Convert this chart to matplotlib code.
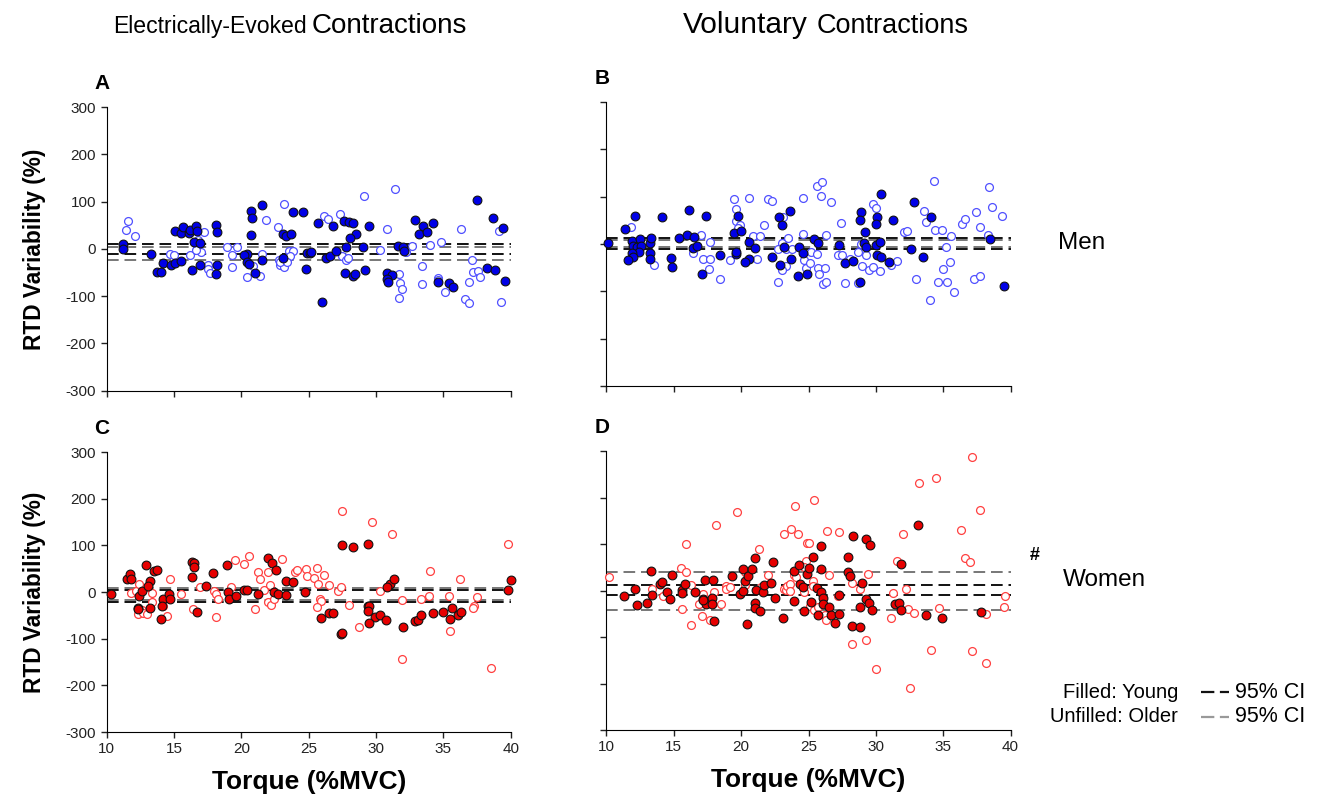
import numpy as np
import matplotlib
matplotlib.use("Agg")
import matplotlib.pyplot as plt

plt.rcParams['font.family'] = ['Liberation Sans', 'DejaVu Sans']
plt.rcParams['axes.unicode_minus'] = False

# ---- datos (torque %MVC, variabilidad %) ----
a_young = [(11.2,11),(11.2,0),(13.3,-10),(13.7,-49),(14.0,-49),(14.2,-30),(14.8,-35),(15.1,-30),(15.5,-26),(15.1,37),
           (15.5,33),(15.7,46),(16.1,33),(16.2,40),(16.6,49),(16.7,38),(16.5,14),(16.9,12),(16.3,-45),(16.9,-35),
           (18.1,51),(18.2,36),(18.2,-35),(18.1,-54),(20.7,81),(20.8,66),(20.7,30),(21.5,93),(20.4,-10),(20.2,-14),
           (20.4,-28),(20.6,-31),(21.5,-24),(21.0,-52),(23.1,32),(23.3,27),(23.7,32),(23.8,77),(24.6,78),(23.1,-19),
           (24.9,-9),(24.8,-43),(25.7,54),(26.8,48),(27.6,59),(28.0,56),(28.3,54),(28.5,31),(28.1,22),(29.5,49),
           (32.9,62),(33.5,48),(33.2,32),(33.8,35),(34.2,54),(37.5,103),(38.7,66),(39.4,44),(25.1,-9),(25.2,-6),
           (26.3,-19),(26.6,-16),(27.0,-5),(27.8,5),(29.0,4),(31.6,6),(32.0,5),(32.1,-5),(26.0,-113),(27.7,-52),
           (28.3,-57),(28.4,-54),(29.2,-45),(30.8,-52),(31.2,-56),(30.8,-63),(30.9,-71),(34.6,-71),(35.4,-72),(35.7,-81),
           (38.2,-40),(38.8,-44),(39.6,-68)]
a_old = [(11.6,58),(11.4,40),(12.1,28),(14.7,-10),(15.0,-12),(16.2,-14),(16.7,2),(16.8,19),(17.2,35),(17.0,-7),
         (16.6,-3),(17.5,-35),(17.5,-43),(17.7,-50),(18.9,5),(19.3,-12),(19.3,-39),(19.7,5),(20.4,-59),(20.9,-36),
         (21.4,-57),(21.5,-10),(21.8,62),(22.7,46),(23.2,94),(23.5,-4),(23.8,-5),(23.6,-15),(22.8,-24),(22.9,-35),
         (23.2,-38),(22.9,-28),(23.4,-28),(26.1,70),(26.4,63),(27.3,73),(29.1,112),(31.4,127),(30.8,42),(36.3,42),
         (39.1,38),(30.3,-3),(32.7,7),(34.0,9),(34.8,14),(32.2,-7),(27.5,-16),(27.8,-23),(27.9,-19),(33.4,-36),
         (37.1,-24),(37.2,-49),(37.6,-47),(37.7,-59),(36.9,-71),(31.7,-53),(31.8,-73),(31.9,-85),(31.7,-104),(33.4,-74),
         (34.6,-61),(34.6,-65),(35.1,-92),(36.6,-107),(36.9,-115),(39.3,-113)]

b_young = [(10.1,3),(11.4,31),(12.1,59),(14.1,57),(16.1,72),(17.4,60),(19.8,60),(19.5,24),(20.0,27),(23.6,70),
           (22.8,57),(23.0,40),(11.9,6),(12.0,-4),(12.3,-6),(12.5,10),(12.6,-4),(12.4,-17),(11.9,-18),(12.0,-27),
           (11.6,-34),(13.2,3),(13.3,12),(13.2,-18),(13.2,-31),(14.8,-29),(14.9,-48),(15.4,12),(16.0,20),(16.5,15),
           (16.4,-9),(16.7,-4),(17.1,-63),(18.4,-23),(19.6,-22),(19.6,-16),(20.6,4),(21.0,-8),(20.6,-31),(20.3,-38),
           (22.3,-27),(23.2,-6),(22.9,-45),(23.7,-31),(24.2,-67),(24.3,-6),(24.6,-18),(24.9,-63),(25.4,11),(25.7,3),
           (27.3,-2),(27.7,-40),(28.3,-36),(28.8,-80),(28.9,67),(28.8,50),(29.2,26),(30.1,57),(30.0,43),(30.4,105),
           (31.3,51),(29.1,3),(29.3,-6),(30.0,-2),(30.3,4),(30.1,-24),(30.4,-27),(31.0,-38),(32.8,89),(34.1,57),
           (32.6,-11),(33.5,-27),(38.5,10),(39.5,-89)]
b_old = [(11.8,35),(13.5,-45),(17.0,20),(17.7,4),(16.4,-20),(17.2,-31),(17.7,-31),(17.6,-52),(18.4,-75),(19.2,-34),
         (19.5,96),(19.6,74),(19.6,48),(19.9,41),(19.8,33),(20.6,98),(20.9,17),(21.4,17),(21.7,40),(21.2,-31),
         (22.0,96),(22.3,91),(23.1,56),(23.0,3),(22.7,-11),(23.3,-11),(23.3,-47),(23.0,-54),(22.7,-80),(23.5,12),
         (23.8,-11),(24.6,98),(24.6,22),(24.7,-33),(24.8,-50),(25.6,122),(26.0,130),(25.9,101),(26.7,88),(26.3,20),
         (25.2,-16),(25.6,-21),(25.1,-40),(25.7,-51),(26.2,-51),(25.8,-64),(26.1,-84),(26.3,-81),(27.2,-24),(27.5,-24),
         (28.1,-31),(27.4,45),(27.7,-82),(28.7,-82),(28.9,1),(28.7,-17),(29.3,-24),(29.0,-47),(29.5,-54),(29.8,-48),
         (30.3,-58),(29.8,84),(30.0,75),(31.1,-45),(31.6,-35),(32.1,26),(32.3,27),(33.0,-73),(33.6,69),(33.7,47),
         (34.3,132),(34.4,29),(34.9,30),(35.6,17),(35.2,-6),(35.0,-52),(35.5,-38),(34.6,-81),(35.3,-80),(35.8,-101),
         (34.0,-118),(36.4,42),(36.6,52),(37.4,67),(37.7,36),(38.4,120),(38.6,79),(39.4,60),(38.3,18),(37.3,-75),
         (37.7,-67)]

c_young = [(10.3,-5),(11.5,27),(11.7,39),(11.8,28),(12.9,57),(12.3,-35),(12.3,-37),(12.4,-9),(12.6,3),(13.2,24),
           (13.1,12),(13.2,-34),(13.5,44),(13.7,47),(14.0,-58),(14.2,-14),(14.1,-31),(14.6,-4),(14.7,-14),(16.3,65),
           (16.5,62),(16.5,53),(16.3,33),(16.7,-42),(17.4,12),(17.9,40),(18.9,57),(19.0,-1),(19.1,-15),(19.6,-8),
           (20.2,5),(20.4,4),(21.2,-4),(22.0,73),(22.3,62),(22.6,48),(22.4,-1),(22.7,-4),(23.3,-6),(23.3,24),
           (23.8,21),(24.7,0),(27.5,101),(28.3,96),(29.4,103),(31.0,17),(31.3,28),(30.8,10),(25.9,-56),(26.5,-45),
           (26.8,-44),(27.4,-89),(27.5,-87),(29.4,-29),(29.5,-31),(29.4,-40),(29.9,-54),(30.3,-49),(30.7,-59),(29.5,-67),
           (32.0,-75),(32.9,-62),(33.1,-61),(33.3,-50),(34.2,-44),(35.0,-43),(35.6,-35),(35.5,-57),(36.1,-50),(36.3,-42),
           (39.8,5),(40.0,25)]
c_old = [(11.8,-3),(12.2,3),(12.4,17),(12.3,-47),(12.6,-38),(12.7,-44),(13.0,-48),(13.4,-21),(13.1,10),(13.4,-3),
         (14.2,-31),(14.5,-51),(14.7,27),(15.5,-5),(16.4,-36),(16.9,11),(18.0,3),(18.1,-4),(18.3,-15),(18.1,-54),
         (19.2,11),(19.5,68),(20.2,59),(20.6,77),(21.2,42),(21.4,28),(21.0,-37),(21.7,5),(22.0,42),(22.1,16),
         (22.0,-22),(22.2,-27),(22.4,-16),(23.0,70),(24.0,42),(24.1,47),(24.8,49),(24.9,35),(27.5,173),(29.7,149),
         (31.2,125),(25.6,52),(26.1,37),(25.4,29),(25.7,17),(26.5,16),(27.2,3),(27.4,10),(25.8,-14),(25.9,-19),
         (25.6,-33),(28.0,-28),(28.7,-75),(30.3,2),(31.9,-17),(31.9,-144),(33.3,-14),(33.9,-9),(34.0,44),(35.4,-9),
         (36.2,27),(35.5,-84),(37.3,-31),(37.2,-34),(37.5,-11),(38.5,-163),(39.8,103)]

d_young = [(11.3,-12),(12.1,4),(12.3,-32),(13.0,-26),(13.3,41),(13.4,-9),(14.0,15),(14.1,19),(14.5,-3),(14.7,-19),
           (14.9,34),(15.6,2),(15.6,-5),(15.8,15),(16.6,-3),(17.2,-19),(17.4,-28),(17.2,-21),(17.3,22),(17.9,22),
           (17.8,-16),(17.8,-28),(18.0,-66),(19.3,31),(19.9,-8),(20.1,-1),(20.1,47),(20.3,21),(20.5,31),(20.8,47),
           (21.0,69),(21.0,-27),(21.0,-37),(21.4,-45),(21.1,2),(20.4,-72),(21.6,-4),(21.7,11),(22.2,16),(22.4,62),
           (22.5,-16),(23.1,-60),(23.9,42),(23.9,-22),(24.3,54),(24.4,13),(24.6,8),(24.7,-44),(24.9,36),(25.0,49),
           (25.3,72),(25.9,95),(25.9,46),(25.6,6),(25.9,-3),(26.1,-17),(26.1,-28),(25.2,-25),(25.7,-52),(26.5,-35),
           (26.7,-52),(27.0,-70),(27.3,-50),(27.3,-9),(27.9,72),(27.9,40),(28.1,31),(28.3,118),(29.0,16),(29.3,110),
           (29.6,97),(29.3,-18),(29.5,-26),(28.8,-35),(29.7,-42),(28.2,-77),(28.8,-78),(31.9,58),(31.4,-29),(31.7,-26),
           (31.9,-41),(33.1,140),(33.7,-53),(34.9,-59),(37.8,-46)]
d_old = [(10.2,29),(13.4,4),(14.2,-11),(15.5,49),(15.9,39),(15.9,101),(16.3,11),(15.6,-39),(16.3,-75),(16.9,-28),
         (17.2,-8),(17.1,-54),(17.7,-64),(18.0,-4),(18.5,-28),(18.1,142),(18.9,9),(18.9,4),(19.2,8),(19.7,168),
         (20.3,11),(20.3,40),(21.3,89),(21.5,8),(22.0,33),(23.2,122),(23.7,132),(24.0,181),(24.2,122),(23.2,3),
         (23.3,1),(23.4,9),(23.6,15),(23.6,-1),(23.9,33),(24.1,29),(24.8,63),(24.7,51),(24.9,102),(25.4,194),
         (25.0,102),(25.3,20),(25.3,9),(24.7,-3),(25.1,-33),(25.4,-42),(25.7,-35),(26.2,-53),(26.3,-64),(26.4,128),
         (27.3,126),(26.5,33),(27.2,-12),(28.2,17),(28.8,3),(29.4,36),(28.2,-115),(29.3,-107),(30.0,-169),(32.0,121),
         (31.6,64),(32.2,4),(31.3,-5),(31.1,-59),(32.4,-39),(32.8,-49),(32.5,-209),(33.2,232),(34.5,242),(34.1,-127),
         (34.7,-37),(36.3,131),(36.6,69),(37.0,61),(37.1,287),(37.7,173),(37.1,-130),(38.2,-156),(38.2,-50),(39.5,-35),
         (39.6,-11)]

# intervalos de confianza 95% (inferior, superior)
a_ci_young = (-10, 10)
a_ci_old = (-24, 5)
b_ci_young = (-11, 12)
b_ci_old = (-7, 8)
c_ci_young = (-21, 5)
c_ci_old = (-17, 9)
d_ci_young = (-9, 11)
d_ci_old = (-42, 40)

xticks = [10, 15, 20, 25, 30, 35, 40]
yticks = [-300, -200, -100, 0, 100, 200, 300]


def panel(ax, young, old, ci_young, ci_old, color, edge_open, letra, xlab, ylab):
    yx = np.array(young)
    ox = np.array(old)
    ax.scatter(ox[:, 0], ox[:, 1], s=32, facecolors='white', edgecolors=edge_open, linewidths=0.9, zorder=3, clip_on=False)
    ax.scatter(yx[:, 0], yx[:, 1], s=40, facecolors=color, edgecolors='#111111', linewidths=0.8, zorder=4, clip_on=False)
    for v in ci_old:
        ax.axhline(v, color='#777777', lw=1.4, dashes=(6, 3), zorder=2)
    for v in ci_young:
        ax.axhline(v, color='#111111', lw=1.4, dashes=(6, 3), zorder=2)
    ax.set_xlim(10, 40)
    ax.set_ylim(-300, 300)
    ax.set_xticks(xticks)
    ax.set_yticks(yticks)
    ax.spines['top'].set_visible(False)
    ax.spines['right'].set_visible(False)
    ax.tick_params(direction='out', length=4, width=1, labelsize=11, colors='#222222')
    if not xlab:
        ax.set_xticklabels([])
    if not ylab:
        ax.set_yticklabels([])
    ax.text(-0.03, 1.05, letra, transform=ax.transAxes, fontsize=15, fontweight='bold', va='bottom', ha='left')


fig = plt.figure(figsize=(13.25, 8.01), dpi=100)
axA = fig.add_axes([0.0805, 0.5122, 0.305, 0.3542])
axB = fig.add_axes([0.4577, 0.5181, 0.305, 0.3546])
axC = fig.add_axes([0.0805, 0.0861, 0.305, 0.3496])
axD = fig.add_axes([0.4577, 0.0886, 0.305, 0.3483])

panel(axA, a_young, a_old, a_ci_young, a_ci_old, '#0000e6', '#5050ff', 'A', False, True)
panel(axB, b_young, b_old, b_ci_young, b_ci_old, '#0000e6', '#5050ff', 'B', False, False)
panel(axC, c_young, c_old, c_ci_young, c_ci_old, '#e60000', '#ff4040', 'C', True, True)
panel(axD, d_young, d_old, d_ci_young, d_ci_old, '#e60000', '#ff4040', 'D', True, False)

for ax in (axA, axC):
    ax.set_ylabel('RTD Variability (%)', fontsize=16.3, fontweight='bold', labelpad=14)
for ax in (axC, axD):
    ax.set_xlabel('Torque (%MVC)', fontsize=19, fontweight='bold', labelpad=10)

# titulos de columna
fig.text(307/1325, 1-33/801, 'Electrically-Evoked', fontsize=16.6, ha='right', va='baseline')
fig.text(312/1325, 1-33/801, 'Contractions', fontsize=20, ha='left', va='baseline')
fig.text(808/1325, 1-33/801, 'Voluntary', fontsize=21.5, ha='right', va='baseline')
fig.text(817/1325, 1-33/801, 'Contractions', fontsize=19.5, ha='left', va='baseline')

fig.text(1058/1325, 1-243/801, 'Men', fontsize=17.5, ha='left', va='center')
fig.text(1063/1325, 1-580/801, 'Women', fontsize=17.5, ha='left', va='center')
fig.text(1030/1325, 1-555/801, '#', fontsize=13, fontweight='bold', ha='left', va='center')

# leyenda
fig.text(1178/1325, 1-692/801, 'Filled: Young', fontsize=14.5, ha='right', va='center')
fig.text(1178/1325, 1-717/801, 'Unfilled: Older', fontsize=14.5, ha='right', va='center')
fig.text(1235/1325, 1-692/801, '95% CI', fontsize=15.5, ha='left', va='center')
fig.text(1235/1325, 1-717/801, '95% CI', fontsize=15.5, ha='left', va='center')
fig.add_artist(plt.Line2D([1201/1325, 1229/1325], [1-692/801, 1-692/801], color='#111111', lw=1.6, dashes=(6, 2.5)))
fig.add_artist(plt.Line2D([1201/1325, 1229/1325], [1-717/801, 1-717/801], color='#999999', lw=1.6, dashes=(6, 2.5)))

fig.savefig('out.png', dpi=100, facecolor='white')
